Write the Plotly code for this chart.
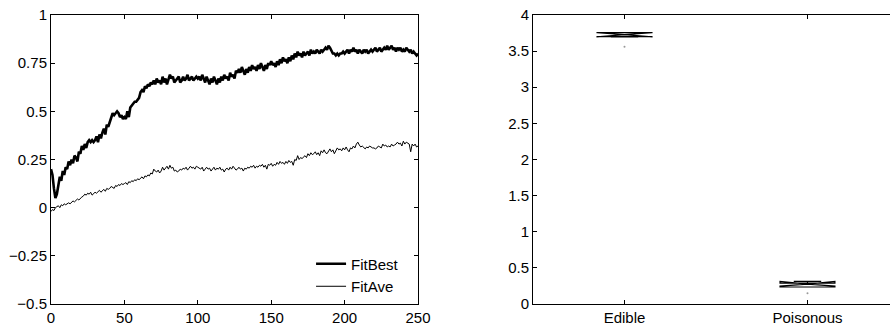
import plotly.graph_objects as go

# ---------------- data ----------------
generations = list(range(0, 251))

fit_best = [
    0.20, 0.17, 0.10, 0.05, 0.07, 0.12, 0.16, 0.14, 0.19, 0.17,
    0.21, 0.20, 0.24, 0.22, 0.25, 0.23, 0.27, 0.26, 0.24, 0.29,
    0.28, 0.32, 0.30, 0.33, 0.31, 0.34, 0.35, 0.34, 0.35, 0.34,
    0.35, 0.37, 0.34, 0.38, 0.36, 0.39, 0.41, 0.38, 0.43, 0.42,
    0.44, 0.46, 0.49, 0.48, 0.49, 0.50, 0.49, 0.47, 0.48, 0.46,
    0.47, 0.46, 0.50, 0.47, 0.52, 0.53, 0.54, 0.55, 0.55, 0.56,
    0.57, 0.60, 0.61, 0.60, 0.63, 0.62, 0.64, 0.63, 0.65, 0.64,
    0.66, 0.64, 0.67, 0.65, 0.66, 0.64, 0.68, 0.65, 0.67, 0.64,
    0.66, 0.69, 0.67, 0.68, 0.65, 0.66, 0.67, 0.68, 0.65, 0.66,
    0.68, 0.66, 0.67, 0.69, 0.66, 0.67, 0.68, 0.66, 0.67, 0.68,
    0.67, 0.68, 0.66, 0.69, 0.67, 0.65, 0.68, 0.66, 0.64, 0.67,
    0.65, 0.68, 0.66, 0.64, 0.67, 0.65, 0.68, 0.66, 0.69, 0.67,
    0.68, 0.66, 0.70, 0.68, 0.69, 0.67, 0.71, 0.70, 0.72, 0.70,
    0.73, 0.71, 0.69, 0.72, 0.70, 0.73, 0.71, 0.74, 0.72, 0.73,
    0.71, 0.74, 0.72, 0.75, 0.73, 0.71, 0.74, 0.72, 0.75, 0.74,
    0.76, 0.74, 0.75, 0.73, 0.76, 0.74, 0.77, 0.75, 0.78, 0.76,
    0.77, 0.75, 0.78, 0.76, 0.79, 0.77, 0.80, 0.78, 0.81, 0.79,
    0.80, 0.78, 0.81, 0.79, 0.80, 0.81, 0.79, 0.82, 0.80, 0.81,
    0.80, 0.82, 0.81, 0.80, 0.82, 0.81, 0.82, 0.83, 0.82, 0.84,
    0.83, 0.81, 0.80, 0.80, 0.79, 0.80, 0.79, 0.80, 0.80, 0.81,
    0.80, 0.81, 0.82, 0.80, 0.82, 0.81, 0.83, 0.81, 0.82, 0.80,
    0.82, 0.81, 0.80, 0.82, 0.81, 0.82, 0.80, 0.81, 0.82, 0.81,
    0.82, 0.83, 0.81, 0.82, 0.83, 0.81, 0.82, 0.83, 0.82, 0.84,
    0.82, 0.83, 0.84, 0.82, 0.83, 0.81, 0.83, 0.82, 0.83, 0.81,
    0.82, 0.81, 0.83, 0.82, 0.81, 0.82, 0.80, 0.81, 0.80, 0.79,
    0.80,
]

fit_ave = [
    -0.020, -0.010, -0.015, 0.000, 0.005, 0.010, 0.000, 0.015, 0.010, 0.020,
    0.015, 0.020, 0.025, 0.020, 0.030, 0.035, 0.030, 0.040, 0.045, 0.040,
    0.050, 0.055, 0.060, 0.070, 0.065, 0.075, 0.070, 0.080, 0.065, 0.075,
    0.080, 0.075, 0.085, 0.090, 0.080, 0.090, 0.095, 0.085, 0.100, 0.095,
    0.100, 0.110, 0.105, 0.100, 0.115, 0.110, 0.120, 0.115, 0.125, 0.120,
    0.125, 0.130, 0.120, 0.135, 0.130, 0.140, 0.135, 0.145, 0.140, 0.150,
    0.145, 0.155, 0.160, 0.150, 0.165, 0.160, 0.170, 0.165, 0.180, 0.175,
    0.200, 0.190, 0.185, 0.195, 0.180, 0.190, 0.210, 0.195, 0.205, 0.215,
    0.200, 0.220, 0.205, 0.210, 0.190, 0.195, 0.185, 0.190, 0.200, 0.195,
    0.205, 0.200, 0.210, 0.195, 0.205, 0.215, 0.205, 0.210, 0.200, 0.215,
    0.210, 0.205, 0.200, 0.210, 0.190, 0.200, 0.210, 0.200, 0.205, 0.190,
    0.200, 0.210, 0.195, 0.205, 0.200, 0.210, 0.195, 0.200, 0.185, 0.200,
    0.205, 0.195, 0.210, 0.200, 0.215, 0.205, 0.195, 0.200, 0.210, 0.200,
    0.205, 0.190, 0.205, 0.200, 0.210, 0.205, 0.215, 0.210, 0.220, 0.205,
    0.215, 0.210, 0.220, 0.215, 0.225, 0.210, 0.220, 0.200, 0.225, 0.220,
    0.230, 0.215, 0.225, 0.220, 0.235, 0.225, 0.240, 0.230, 0.235, 0.225,
    0.240, 0.230, 0.245, 0.235, 0.240, 0.220, 0.250, 0.245, 0.270, 0.250,
    0.260, 0.255, 0.265, 0.270, 0.260, 0.280, 0.270, 0.285, 0.275, 0.280,
    0.290, 0.275, 0.285, 0.270, 0.295, 0.285, 0.300, 0.285, 0.280, 0.295,
    0.305, 0.290, 0.300, 0.280, 0.295, 0.310, 0.300, 0.305, 0.295, 0.310,
    0.300, 0.315, 0.300, 0.290, 0.310, 0.305, 0.320, 0.310, 0.330, 0.340,
    0.325, 0.315, 0.320, 0.310, 0.305, 0.315, 0.310, 0.320, 0.315, 0.310,
    0.310, 0.305, 0.310, 0.320, 0.315, 0.310, 0.330, 0.320, 0.325, 0.315,
    0.320, 0.315, 0.330, 0.320, 0.325, 0.330, 0.340, 0.330, 0.335, 0.320,
    0.345, 0.330, 0.340, 0.335, 0.330, 0.290, 0.330, 0.320, 0.330, 0.315,
    0.320,
]

left_x_ticks = [0, 50, 100, 150, 200, 250]
left_y_ticks = [-0.5, -0.25, 0, 0.25, 0.5, 0.75, 1]
left_y_labels = ["\u22120.5", "\u22120.25", "0", "0.25", "0.5", "0.75", "1"]

categories = ["Edible", "Poisonous"]
box_q1 = [3.700, 0.235]
box_median = [3.727, 0.280]
box_q3 = [3.755, 0.288]
box_lower = [3.700, 0.235]
box_upper = [3.755, 0.288]
box_notchspan = [0.030, 0.032]
outlier_values = [3.56, 0.15]

right_y_ticks = [0, 0.5, 1, 1.5, 2, 2.5, 3, 3.5, 4]
right_y_labels = ["0", "0.5", "1", "1.5", "2", "2.5", "3", "3.5", "4"]

# ---------------- figure ----------------
FONT = "Liberation Sans, Arial, Helvetica, sans-serif"
fig = go.Figure()

fig.add_trace(go.Scatter(
    x=generations, y=fit_best, mode="lines", name="FitBest",
    line=dict(color="black", width=2.6), xaxis="x", yaxis="y"))
fig.add_trace(go.Scatter(
    x=generations, y=fit_ave, mode="lines", name="FitAve",
    line=dict(color="black", width=1), xaxis="x", yaxis="y"))

fig.add_trace(go.Box(
    x=categories, q1=box_q1, median=box_median, q3=box_q3,
    lowerfence=box_lower, upperfence=box_upper, notchspan=box_notchspan,
    notched=True, notchwidth=0.5, width=0.3, boxpoints=False,
    line=dict(color="black", width=1.2), fillcolor="rgba(0,0,0,0)",
    showlegend=False, xaxis="x2", yaxis="y2"))
fig.add_trace(go.Scatter(
    x=categories, y=outlier_values, mode="markers",
    marker=dict(color="#999999", size=2), showlegend=False,
    xaxis="x2", yaxis="y2"))

axis_common = dict(
    showgrid=False, zeroline=False, showline=True, linecolor="black",
    linewidth=1, ticks="inside", ticklen=4, tickcolor="black",
    automargin=False,
    tickfont=dict(family=FONT, size=15, color="black"))

fig.update_layout(
    width=890, height=326,
    margin=dict(l=0, r=0, t=0, b=0, autoexpand=False),
    paper_bgcolor="white", plot_bgcolor="white",
    font=dict(family=FONT, size=15, color="black"),
    xaxis=dict(domain=[0.0573, 0.4697], range=[0, 250], tickvals=left_x_ticks,
               mirror="ticks", anchor="y", **axis_common),
    yaxis=dict(domain=[0.0675, 0.954], range=[-0.5, 1], tickvals=left_y_ticks,
               ticktext=left_y_labels, mirror="ticks", anchor="x", **axis_common),
    xaxis2=dict(domain=[0.5989, 1.0], range=[-0.5, 1.451], type="category",
                mirror="ticks", anchor="y2", **axis_common),
    yaxis2=dict(domain=[0.0675, 0.954], range=[0, 4], tickvals=right_y_ticks,
                ticktext=right_y_labels, mirror=False, anchor="x2", **axis_common),
    legend=dict(x=0.454, y=0.072, xanchor="right", yanchor="bottom",
                bgcolor="rgba(0,0,0,0)", borderwidth=0,
                font=dict(family=FONT, size=15, color="black")),
)

fig.write_html(
    "out.html",
    config={"displayModeBar": False},
    post_script="document.body.style.margin='0px';document.body.style.overflow='hidden';",
)
